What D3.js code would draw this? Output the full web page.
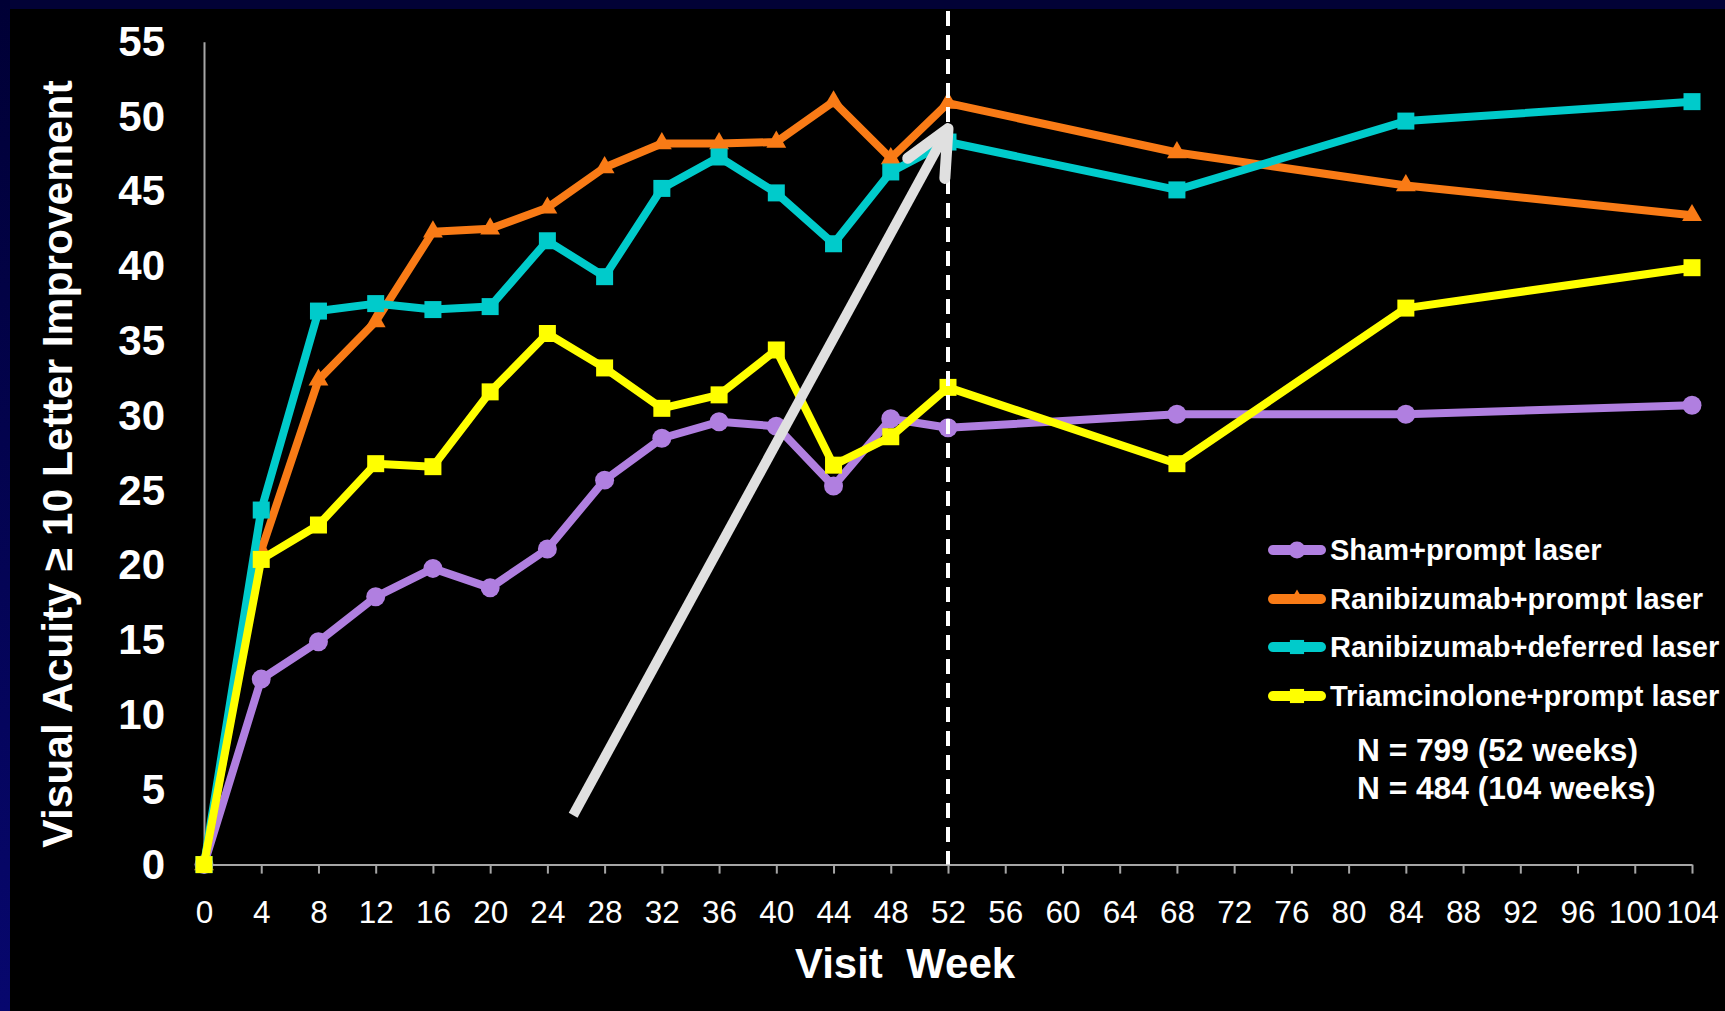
<!DOCTYPE html>
<html>
<head>
<meta charset="utf-8">
<script src="https://cdn.jsdelivr.net/npm/d3@7/dist/d3.min.js"></script>
<style>
  html, body { margin: 0; padding: 0; background: #000; }
  svg { display: block; }
  text { font-family: "Liberation Sans", Arial, Helvetica, sans-serif; fill: #fff; }
</style>
</head>
<body>
<script>
// Visit weeks (x) and the percentage of eyes gaining >= 10 letters per arm
const weeks = [0, 4, 8, 12, 16, 20, 24, 28, 32, 36, 40, 44, 48, 52, 68, 84, 104];
const shamPrompt = [0, 12.4, 14.9, 17.9, 19.8, 18.5, 21.1, 25.7, 28.5, 29.6, 29.3, 25.3, 29.8, 29.2, 30.1, 30.1, 30.7];
const ranibizumabPrompt = [0, 21.0, 32.4, 36.3, 42.3, 42.5, 43.9, 46.6, 48.2, 48.2, 48.3, 51.0, 47.2, 50.9, 47.6, 45.4, 43.4];
const ranibizumabDeferred = [0, 23.7, 37.0, 37.5, 37.1, 37.3, 41.7, 39.3, 45.2, 47.3, 44.9, 41.5, 46.3, 48.3, 45.1, 49.7, 51.0];
const triamcinolonePrompt = [0, 20.4, 22.7, 26.8, 26.6, 31.6, 35.5, 33.2, 30.5, 31.4, 34.4, 26.7, 28.6, 31.9, 26.8, 37.2, 39.9];

const seriesNames = ["Sham+prompt laser", "Ranibizumab+prompt laser", "Ranibizumab+deferred laser", "Triamcinolone+prompt laser"];
const seriesValues = [shamPrompt, ranibizumabPrompt, ranibizumabDeferred, triamcinolonePrompt];
const seriesColors = ["#b07fe0", "#f97b16", "#00cbcb", "#ffff00"];
const seriesSymbols = [d3.symbolCircle, d3.symbolTriangle, d3.symbolSquare, d3.symbolSquare];

const xTicks = d3.range(0, 105, 4);
const yTicks = d3.range(0, 56, 5);
const yearMark = 52;
const sampleNotes = ["N = 799 (52 weeks)", "N = 484 (104 weeks)"];
// annotation arrow, in data units: [week, percent]
const arrowFrom = [25.8, 3.3];
const arrowTo = [52, 49.2];

const W = 1725, H = 1011;
const svg = d3.select("body").append("svg").attr("width", W).attr("height", H);

// slide frame
const defs = svg.append("defs");
const grad = defs.append("linearGradient").attr("id", "frameLeft")
  .attr("x1", 0).attr("y1", 0).attr("x2", 0).attr("y2", 1);
grad.append("stop").attr("offset", "0%").attr("stop-color", "#000035");
grad.append("stop").attr("offset", "100%").attr("stop-color", "#07076e");
svg.append("rect").attr("width", W).attr("height", H).attr("fill", "#000");
svg.append("rect").attr("x", 0).attr("y", 0).attr("width", W).attr("height", 9).attr("fill", "#020236");
svg.append("rect").attr("x", 0).attr("y", 0).attr("width", 10).attr("height", H).attr("fill", "url(#frameLeft)");

const x = d3.scaleLinear().domain([0, 104]).range([204, 1692]);
const y = d3.scaleLinear().domain([0, 55]).range([864.6, 41.8]);

// y axis
const yAxis = svg.append("g").attr("transform", `translate(${x(0)},0)`)
  .call(d3.axisLeft(y).tickValues(yTicks).tickSize(0).tickSizeOuter(0).tickPadding(39));
yAxis.select(".domain").attr("stroke", "#a6a6a6").attr("stroke-width", 2);
yAxis.selectAll("text").attr("font-size", 42).attr("font-weight", "bold")
  .attr("font-family", "Liberation Sans, Arial, sans-serif").attr("fill", "#fff");

// x axis
const xAxis = svg.append("g").attr("transform", `translate(0,${y(0)})`)
  .call(d3.axisBottom(x).tickValues(xTicks).tickSize(9).tickSizeOuter(0).tickPadding(27));
xAxis.select(".domain").attr("stroke", "#a6a6a6").attr("stroke-width", 2);
xAxis.selectAll(".tick line").attr("stroke", "#a6a6a6").attr("stroke-width", 2);
xAxis.selectAll("text").attr("font-size", 31.5)
  .attr("font-family", "Liberation Sans, Arial, sans-serif").attr("fill", "#fff");

// axis titles
svg.append("text")
  .attr("transform", `translate(57,464) rotate(-90)`)
  .attr("text-anchor", "middle").attr("dy", "0.35em")
  .attr("font-size", 42.5).attr("font-weight", "bold")
  .text("Visual Acuity \u2265 10 Letter Improvement");
svg.append("text")
  .attr("x", 905).attr("y", 978)
  .attr("text-anchor", "middle")
  .attr("font-size", 42).attr("font-weight", "bold")
  .attr("xml:space", "preserve")
  .style("white-space", "pre")
  .text("Visit  Week");

// series lines and markers
const line = d3.line().x((d, i) => x(weeks[i])).y(d => y(d));
seriesValues.forEach((vals, s) => {
  const g = svg.append("g");
  g.append("path").datum(vals)
    .attr("d", line)
    .attr("fill", "none")
    .attr("stroke", seriesColors[s])
    .attr("stroke-width", 8)
    .attr("stroke-linejoin", "round");
  const size = seriesSymbols[s] === d3.symbolCircle ? 283 : (seriesSymbols[s] === d3.symbolTriangle ? 170 : 289);
  g.selectAll("path.m").data(vals).join("path")
    .attr("class", "m")
    .attr("transform", (d, i) => `translate(${x(weeks[i])},${y(d)})`)
    .attr("d", d3.symbol().type(seriesSymbols[s]).size(size))
    .attr("fill", seriesColors[s]);
});

// one-year marker
svg.append("line")
  .attr("x1", x(yearMark)).attr("x2", x(yearMark))
  .attr("y1", 11).attr("y2", y(0))
  .attr("stroke", "#fff").attr("stroke-width", 4)
  .attr("stroke-dasharray", "15,9");

// annotation arrow
const ax0 = x(arrowFrom[0]), ay0 = y(arrowFrom[1]);
const ax1 = x(arrowTo[0]), ay1 = y(arrowTo[1]);
const ang = Math.atan2(ay0 - ay1, ax0 - ax1);
const wing = 50, spread = 25 * Math.PI / 180;
svg.append("line")
  .attr("x1", ax0).attr("y1", ay0).attr("x2", ax1).attr("y2", ay1)
  .attr("stroke", "#e0e0e0").attr("stroke-width", 10);
svg.append("path")
  .attr("d", d3.line()([
    [ax1 + wing * Math.cos(ang + spread), ay1 + wing * Math.sin(ang + spread)],
    [ax1, ay1],
    [ax1 + wing * Math.cos(ang - spread), ay1 + wing * Math.sin(ang - spread)]
  ]))
  .attr("fill", "none").attr("stroke", "#e0e0e0").attr("stroke-width", 11)
  .attr("stroke-linecap", "round").attr("stroke-linejoin", "round");

// legend
const legendY = [550, 599, 647, 696];
const lg = svg.append("g");
seriesNames.forEach((name, s) => {
  const row = lg.append("g").attr("transform", `translate(0,${legendY[s]})`);
  row.append("line").attr("x1", 1273).attr("x2", 1321).attr("y1", 0).attr("y2", 0)
    .attr("stroke", seriesColors[s]).attr("stroke-width", 10).attr("stroke-linecap", "round");
  const size = seriesSymbols[s] === d3.symbolCircle ? 227 : (seriesSymbols[s] === d3.symbolTriangle ? 120 : 200);
  row.append("path").attr("transform", "translate(1297,0)")
    .attr("d", d3.symbol().type(seriesSymbols[s]).size(size))
    .attr("fill", seriesColors[s]);
  row.append("text").attr("x", 1330).attr("y", 0).attr("dy", "0.36em")
    .attr("font-size", 29).attr("font-weight", "bold").text(name);
});

// sample size notes
const noteY = [750, 788];
sampleNotes.forEach((t, i) => {
  svg.append("text").attr("x", 1357).attr("y", noteY[i]).attr("dy", "0.36em")
    .attr("font-size", 31.7).attr("font-weight", "bold").text(t);
});
</script>
</body>
</html>
